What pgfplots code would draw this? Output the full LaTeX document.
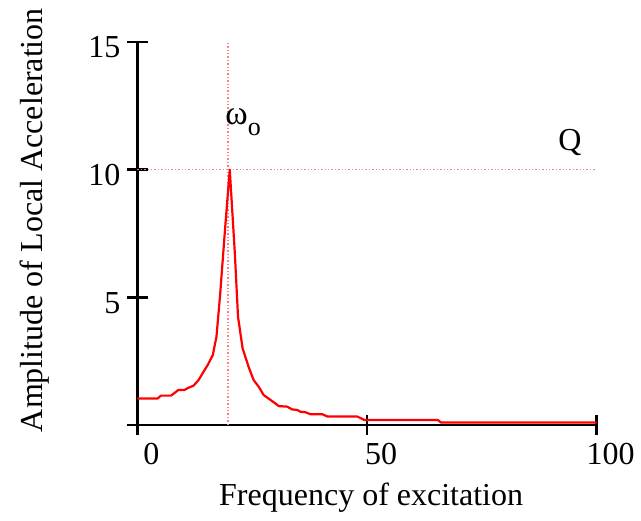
\documentclass[border=0pt]{standalone}
\usepackage{fontspec}
\setmainfont{Liberation Serif}
\usepackage{pgfplots}
\pgfplotsset{compat=1.18}

\begin{document}
\begin{tikzpicture}
% page size fixed to the reference proportions (0.5pt per pixel)
\path[use as bounding box] (-68.75pt,-47.5pt) rectangle (251.75pt,212.5pt);
\begin{axis}[
  at={(0pt,0pt)}, anchor=south west,
  scale only axis, width=229.5pt, height=191.5pt,
  xmin=0, xmax=100, ymin=0, ymax=15,
  axis x line=bottom, axis y line=left,
  axis line style={-, line width=1.2pt, black},
  xtick={0,50,100}, ytick={0,5,10,15},
  yticklabels={{},5,10,15},
  tick align=center, major tick length=10pt,
  tick style={line width=1.2pt, black},
  ticklabel style={font=\fontsize{16}{19}\selectfont},
  /pgf/number format/assume math mode=true,
  xticklabel style={xshift=7pt, yshift=-0.8pt},
  yticklabel style={yshift=-2.7pt},
  xlabel={Frequency of excitation},
  ylabel={Amplitude of Local Acceleration},
  label style={font=\fontsize{16}{19}\selectfont},
  xlabel style={at={(axis description cs:0.509,-0.209)}, anchor=base},
  ylabel style={at={(axis description cs:-0.223,0.535)}, anchor=center},
  clip=false,
]
% marker lines
\addplot[red!50, densely dotted, line width=0.7pt] coordinates {(19.7,0) (19.7,15)};
\addplot[red!50, densely dotted, line width=0.7pt] coordinates {(0,10) (100,10)};

% response curve
\addplot[red, line width=1.1pt, line join=round] coordinates {
  (0,1.04) (4.4,1.04) (5.1,1.15) (7.3,1.15) (8.9,1.37) (10.2,1.37)
  (11,1.45) (12.2,1.54) (13.3,1.76) (14.4,2.09) (15.3,2.35) (16.4,2.74)
  (17.2,3.45) (18,5.1) (19,7.5) (20.1,10) (21.2,6.75) (21.9,4.24)
  (22.9,3.0) (24.2,2.28) (25.3,1.76) (26.4,1.5) (27.5,1.17) (29,0.98)
  (30.8,0.74) (32.6,0.72) (33.7,0.61) (34.8,0.59) (35.5,0.52) (36.6,0.5)
  (37.7,0.42) (40.3,0.42) (41.4,0.33) (47.9,0.33) (49.4,0.2) (65.4,0.2)
  (66.1,0.1) (100,0.1)
};

\node[anchor=base west, inner sep=0pt, font=\fontsize{17}{20}\selectfont]
  at (axis cs:19.06,11.75) {ω\raisebox{-5.5pt}{\fontsize{13}{15}\selectfont o}};
\node[anchor=base west, inner sep=0pt, font=\fontsize{16}{19}\selectfont]
  at (axis cs:91.6,10.77) {Q};
\end{axis}
\end{tikzpicture}
\end{document}
